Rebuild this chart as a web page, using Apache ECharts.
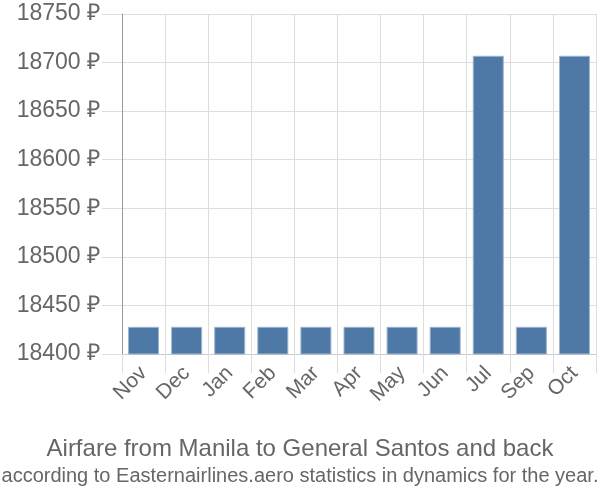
<!DOCTYPE html>
<html>
<head>
<meta charset="utf-8">
<script src="https://cdn.jsdelivr.net/npm/echarts@6/dist/echarts.min.js"></script>
<style>html,body{margin:0;padding:0;background:#fff}#c{width:600px;height:500px}</style>
</head>
<body>
<div id="c"></div>
<script>
var categories = ['Nov','Dec','Jan','Feb','Mar','Apr','May','Jun','Jul','Sep','Oct'];
var prices = [18428,18428,18428,18428,18428,18428,18428,18428,18707,18428,18707];
var titleText = 'Airfare from Manila to General Santos and back';
var subtitleText = 'according to Easternairlines.aero statistics in dynamics for the year.';

var FONT = 'Liberation Sans, Arial, sans-serif';
var chart = echarts.init(document.getElementById('c'), null, {renderer:'canvas'});
chart.setOption({
  animation: false,
  title: [{
    text: titleText, left: 'center', top: 432,
    textStyle: {fontFamily: FONT, fontSize: 24, fontWeight: 'normal', color: '#666'}
  },{
    text: subtitleText, left: 'center', top: 461,
    textStyle: {fontFamily: FONT, fontSize: 20, fontWeight: 'normal', color: '#666'}
  }],
  grid: {left: 122, right: 4, top: 14, bottom: 146, containLabel: false},
  xAxis: {
    type: 'category', data: categories, boundaryGap: true,
    axisLine: {show: true, lineStyle: {color: '#ccc', width: 1}},
    axisTick: {show: true, length: 19, lineStyle: {color: '#ddd'}},
    splitLine: {show: true, lineStyle: {color: '#ddd'}},
    axisLabel: {rotate: 45, fontSize: 21, color: '#666', margin: 16, fontFamily: FONT, interval: 0}
  },
  yAxis: {
    type: 'value', min: 18400, max: 18750, interval: 50,
    axisLine: {show: true, lineStyle: {color: '#999', width: 1}},
    axisTick: {show: true, length: 20, lineStyle: {color: '#ddd'}},
    splitLine: {show: true, lineStyle: {color: '#ddd'}},
    axisLabel: {formatter: function (v) { return v + ' ₽'; }, fontSize: 23, color: '#666', margin: 22, fontFamily: FONT}
  },
  series: [{
    type: 'bar', data: prices, barWidth: '72%',
    itemStyle: {color: '#4e79a7', borderColor: '#9fb5cd', borderWidth: 1}
  }]
});
</script>
</body>
</html>
